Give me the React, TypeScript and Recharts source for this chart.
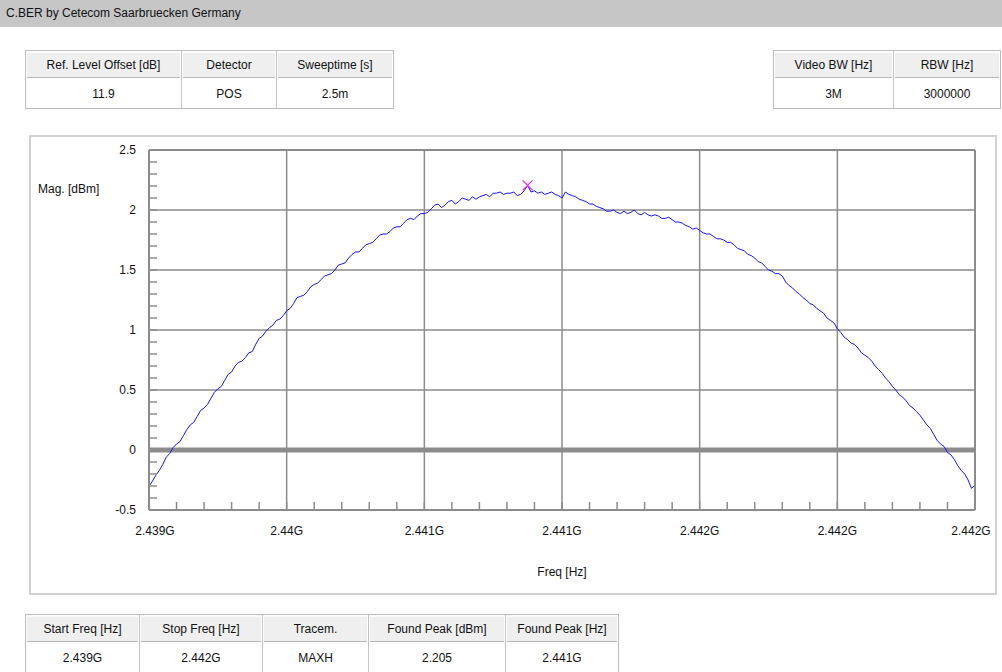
import React from 'react';
import { LineChart, Line, XAxis, YAxis, ReferenceLine, ReferenceDot } from 'recharts';

// ---- data ----
const START_FREQ_MHZ = 2439;
const STOP_FREQ_MHZ = 2442;
const MAG_DBM = [
  -0.30, -0.26, -0.21, -0.17, -0.12, -0.06, -0.03, 0.02, 0.05, 0.07,
  0.12, 0.17, 0.21, 0.23, 0.28, 0.33, 0.35, 0.38, 0.43, 0.48,
  0.51, 0.53, 0.58, 0.63, 0.65, 0.70, 0.73, 0.74, 0.77, 0.81,
  0.82, 0.88, 0.93, 0.95, 0.99, 1.02, 1.04, 1.08, 1.09, 1.12,
  1.16, 1.18, 1.22, 1.27, 1.28, 1.29, 1.32, 1.36, 1.38, 1.39,
  1.42, 1.45, 1.46, 1.47, 1.50, 1.54, 1.55, 1.56, 1.60, 1.63,
  1.65, 1.65, 1.68, 1.71, 1.72, 1.73, 1.76, 1.79, 1.80, 1.80,
  1.82, 1.85, 1.86, 1.86, 1.89, 1.92, 1.93, 1.92, 1.95, 1.97,
  1.97, 1.98, 2.01, 2.04, 2.05, 2.02, 2.04, 2.07, 2.08, 2.05,
  2.07, 2.10, 2.09, 2.08, 2.11, 2.09, 2.11, 2.12, 2.13, 2.11,
  2.14, 2.14, 2.15, 2.13, 2.14, 2.14, 2.15, 2.12, 2.13, 2.16,
  2.205, 2.15, 2.16, 2.14, 2.15, 2.13, 2.14, 2.15, 2.13, 2.12,
  2.10, 2.15, 2.13, 2.12, 2.11, 2.09, 2.08, 2.07, 2.05, 2.05,
  2.03, 2.02, 2.01, 1.99, 1.99, 2.00, 1.98, 1.97, 1.99, 1.97,
  1.98, 2.00, 1.97, 1.96, 1.98, 1.96, 1.95, 1.96, 1.95, 1.93,
  1.93, 1.94, 1.92, 1.90, 1.90, 1.89, 1.87, 1.86, 1.84, 1.85,
  1.83, 1.81, 1.80, 1.80, 1.78, 1.76, 1.76, 1.75, 1.73, 1.73,
  1.71, 1.68, 1.67, 1.66, 1.63, 1.62, 1.60, 1.57, 1.56, 1.53,
  1.50, 1.49, 1.47, 1.47, 1.45, 1.40, 1.37, 1.35, 1.32, 1.30,
  1.27, 1.25, 1.22, 1.21, 1.18, 1.16, 1.14, 1.10, 1.08, 1.06,
  1.01, 0.98, 0.94, 0.92, 0.89, 0.88, 0.85, 0.81, 0.79, 0.77,
  0.74, 0.70, 0.67, 0.64, 0.60, 0.57, 0.53, 0.50, 0.46, 0.44,
  0.41, 0.37, 0.35, 0.32, 0.29, 0.25, 0.21, 0.18, 0.13, 0.08,
  0.05, 0.03, -0.02, -0.04, -0.08, -0.13, -0.17, -0.20, -0.25, -0.32,
  -0.29,
];
const FREQ_TICKS = [2439, 2439.5, 2440, 2440.5, 2441, 2441.5, 2442];
const FREQ_TICK_LABELS = ['2.439G', '2.44G', '2.441G', '2.441G', '2.442G', '2.442G', '2.442G'];
const MAG_TICKS = [-0.5, 0, 0.5, 1, 1.5, 2, 2.5];
const MAG_TICK_LABELS = ['-0.5', '0', '0.5', '1', '1.5', '2', '2.5'];
const MINOR_DIVISIONS = 5;
const PEAK_FREQ_MHZ = 2440.375;
const PEAK_MAG_DBM = 2.205;

const TITLE = 'C.BER by Cetecom Saarbruecken Germany';
const TOP_LEFT_HEADERS = ['Ref. Level Offset [dB]', 'Detector', 'Sweeptime [s]'];
const TOP_LEFT_VALUES = ['11.9', 'POS', '2.5m'];
const TOP_RIGHT_HEADERS = ['Video BW [Hz]', 'RBW [Hz]'];
const TOP_RIGHT_VALUES = ['3M', '3000000'];
const BOTTOM_HEADERS = ['Start Freq [Hz]', 'Stop Freq [Hz]', 'Tracem.', 'Found Peak [dBm]', 'Found Peak [Hz]'];
const BOTTOM_VALUES = ['2.439G', '2.442G', 'MAXH', '2.205', '2.441G'];

// ---- derived ----
const step = (STOP_FREQ_MHZ - START_FREQ_MHZ) / (MAG_DBM.length - 1);
const chartData = MAG_DBM.map((m, i) => ({ f: START_FREQ_MHZ + i * step, mag: m }));

function withMinor(major: number[]): number[] {
  const out: number[] = [];
  for (let i = 0; i < major.length - 1; i++) {
    const a = major[i];
    const b = major[i + 1];
    for (let k = 0; k < MINOR_DIVISIONS; k++) out.push(a + ((b - a) * k) / MINOR_DIVISIONS);
  }
  out.push(major[major.length - 1]);
  return out;
}
const FREQ_ALL_TICKS = withMinor(FREQ_TICKS);
const MAG_ALL_TICKS = withMinor(MAG_TICKS);

function labelFor(v: number, ticks: number[], labels: string[]) {
  const i = ticks.findIndex((t) => Math.abs(t - v) < 1e-6);
  return i >= 0 ? labels[i] : '';
}

const FONT = '"Liberation Sans", Arial, sans-serif';
const GRID = '#8c8c8c';
const TXT = '#111';

function XMarker(props: any) {
  const { cx, cy } = props;
  if (cx == null || cy == null) return null;
  const s = 5;
  return (
    <g stroke="#ee30ee" strokeWidth={1.3}>
      <line x1={cx - s} y1={cy - s} x2={cx + s} y2={cy + s} />
      <line x1={cx - s} y1={cy + s} x2={cx + s} y2={cy - s} />
    </g>
  );
}

function FreqTick(props: any) {
  const { x, y, payload } = props;
  const label = labelFor(payload.value, FREQ_TICKS, FREQ_TICK_LABELS);
  if (!label) return null;
  const first = Math.abs(payload.value - FREQ_TICKS[0]) < 1e-6;
  const last = Math.abs(payload.value - FREQ_TICKS[FREQ_TICKS.length - 1]) < 1e-6;
  return (
    <text x={x} y={y} dx={first ? 6 : last ? -4 : 0} dy="0.71em" textAnchor="middle" fill={TXT} fontSize={12} fontFamily={FONT}>
      {label}
    </text>
  );
}

function InfoTable({ left, top, widths, headers, values }: { left: number; top: number; widths: number[]; headers: string[]; values: string[] }) {
  return (
    <div
      style={{
        position: 'absolute',
        left,
        top,
        display: 'flex',
        border: '1px solid #bdbdbd',
        background: '#fff',
      }}
    >
      {headers.map((h, i) => (
        <div
          key={h}
          style={{
            width: widths[i],
            borderRight: i < headers.length - 1 ? '1px solid #c4c4c4' : 'none',
            display: 'flex',
            flexDirection: 'column',
          }}
        >
          <div
            style={{
              height: 24,
              margin: 1,
              background: '#efefef',
              borderTop: '1px solid #fafafa',
              borderBottom: '1px solid #b8b8b8',
              display: 'flex',
              alignItems: 'center',
              justifyContent: 'center',
              fontSize: 12,
              color: TXT,
              whiteSpace: 'nowrap',
            }}
          >
            {h}
          </div>
          <div
            style={{
              height: 29,
              display: 'flex',
              alignItems: 'center',
              justifyContent: 'center',
              fontSize: 12,
              color: TXT,
            }}
          >
            {values[i]}
          </div>
        </div>
      ))}
    </div>
  );
}

export default function App() {
  return (
    <div
      style={{
        position: 'absolute',
        left: 0,
        top: 0,
        width: 1002,
        height: 672,
        overflow: 'hidden',
        background: '#fff',
        fontFamily: FONT,
      }}
    >
      <div
        style={{
          position: 'absolute',
          left: 0,
          top: 0,
          width: 1002,
          height: 27,
          background: '#c6c6c6',
          fontSize: 12,
          lineHeight: '27px',
          paddingLeft: 6,
          color: TXT,
        }}
      >
        {TITLE}
      </div>

      <InfoTable left={25} top={50} widths={[155, 94, 116]} headers={TOP_LEFT_HEADERS} values={TOP_LEFT_VALUES} />
      <InfoTable left={773} top={50} widths={[119, 106]} headers={TOP_RIGHT_HEADERS} values={TOP_RIGHT_VALUES} />

      <div
        style={{
          position: 'absolute',
          left: 29,
          top: 135,
          width: 964,
          height: 456,
          border: '2px solid #d2d2d2',
        }}
      />
      <div style={{ position: 'absolute', left: 38, top: 182, fontSize: 12, color: TXT }}>Mag. [dBm]</div>

      <div style={{ position: 'absolute', left: 0, top: 0 }}>
        <LineChart
          width={1002}
          height={600}
          data={chartData}
          margin={{ top: 149, left: 29, right: 26, bottom: 20 }}
        >
          <XAxis
            xAxisId="bottom"
            dataKey="f"
            type="number"
            domain={[START_FREQ_MHZ, STOP_FREQ_MHZ]}
            ticks={FREQ_ALL_TICKS}
            interval={0}
            height={70}
            tickSize={-8}
            tickMargin={24}
            tick={<FreqTick />}
            axisLine={{ stroke: GRID, strokeWidth: 2 }}
            tickLine={{ stroke: GRID, strokeWidth: 1.5 }}
            label={{ value: 'Freq [Hz]', position: 'insideBottom', offset: 4, fill: TXT, fontSize: 12, fontFamily: FONT }}
          />
          <XAxis
            xAxisId="top"
            orientation="top"
            dataKey="f"
            type="number"
            domain={[START_FREQ_MHZ, STOP_FREQ_MHZ]}
            ticks={FREQ_ALL_TICKS}
            interval={0}
            height={1}
            tickSize={-8}
            tick={false}
            axisLine={{ stroke: GRID, strokeWidth: 2 }}
            tickLine={{ stroke: GRID, strokeWidth: 1.5 }}
          />
          <YAxis
            yAxisId="left"
            type="number"
            domain={[-0.5, 2.5]}
            ticks={MAG_ALL_TICKS}
            interval={0}
            width={120}
            tickSize={-8}
            tickMargin={21}
            tickFormatter={(v: number) => labelFor(v, MAG_TICKS, MAG_TICK_LABELS)}
            tick={{ fill: TXT, fontSize: 12, fontFamily: FONT }}
            axisLine={{ stroke: GRID, strokeWidth: 2 }}
            tickLine={{ stroke: GRID, strokeWidth: 1.5 }}
          />
          <YAxis
            yAxisId="right"
            orientation="right"
            type="number"
            domain={[-0.5, 2.5]}
            ticks={MAG_ALL_TICKS}
            interval={0}
            width={1}
            tickSize={-8}
            tick={false}
            axisLine={{ stroke: GRID, strokeWidth: 2 }}
            tickLine={{ stroke: GRID, strokeWidth: 1.5 }}
          />
          {FREQ_TICKS.slice(1, -1).map((f) => (
            <ReferenceLine key={'vx' + f} xAxisId="bottom" yAxisId="left" x={f} stroke={GRID} strokeWidth={1.5} />
          ))}
          {MAG_TICKS.slice(1, -1).map((m) => (
            <ReferenceLine
              key={'hy' + m}
              xAxisId="bottom"
              yAxisId="left"
              y={m}
              stroke={GRID}
              strokeWidth={m === 0 ? 5 : 1.5}
            />
          ))}
          <Line
            xAxisId="bottom"
            yAxisId="left"
            dataKey="mag"
            type="linear"
            stroke="#1414ff"
            strokeWidth={1}
            dot={false}
            activeDot={false}
            isAnimationActive={false}
          />
          <Line
            xAxisId="top"
            yAxisId="right"
            dataKey="mag"
            stroke="none"
            dot={false}
            activeDot={false}
            legendType="none"
            isAnimationActive={false}
          />
          <ReferenceDot
            xAxisId="bottom"
            yAxisId="left"
            x={PEAK_FREQ_MHZ}
            y={PEAK_MAG_DBM}
            shape={XMarker}
          />
        </LineChart>
      </div>

      <InfoTable
        left={25}
        top={614}
        widths={[113, 122, 105, 136, 112]}
        headers={BOTTOM_HEADERS}
        values={BOTTOM_VALUES}
      />
    </div>
  );
}
